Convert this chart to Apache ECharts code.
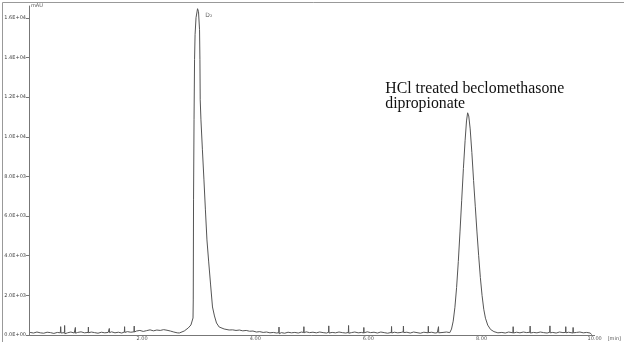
<!DOCTYPE html>
<html>
<head>
<meta charset="utf-8">
<script src="https://cdn.jsdelivr.net/npm/echarts@6/dist/echarts.min.js"></script>
<style>html,body{margin:0;padding:0;background:#fff}#c{width:624px;height:342px}</style>
</head>
<body>
<div id="c"></div>
<script>
// Chromatogram trace [time (min), signal (mAU)]
const baselineA = [[0.02,130],[0.08,100],[0.14,150],[0.20,110],[0.26,90],[0.32,140],[0.38,120],[0.44,80],[0.50,130],[0.554,110],[0.56,420],[0.566,100],[0.60,140],[0.626,120],[0.63,480],[0.634,60],[0.68,110],[0.74,150],[0.80,100],[0.816,120],[0.82,380],[0.824,90],[0.86,130],[0.92,160],[0.98,110],[1.046,130],[1.05,400],[1.054,110],[1.10,150],[1.16,120],[1.22,90],[1.28,140],[1.34,110],[1.40,130],[1.416,100],[1.42,330],[1.424,120],[1.46,160],[1.52,110],[1.58,140],[1.64,100],[1.686,150],[1.69,420],[1.694,130],[1.74,170],[1.80,140],[1.856,160],[1.86,450],[1.864,150],[1.90,200],[1.96,230],[2.02,180],[2.08,220],[2.14,260],[2.20,210],[2.26,250],[2.32,230],[2.38,270],[2.44,240],[2.50,200],[2.56,150],[2.62,110]];
const peak1 = [[2.657,101],[2.745,202],[2.815,354],[2.863,505],[2.900,859],[2.904,1768],[2.909,6818],[2.918,10858],[2.927,13888],[2.936,15150],[2.953,16009],[2.980,16463],[2.997,16312],[3.015,15403],[3.022,13888],[3.027,11868],[3.040,10858],[3.066,9343],[3.093,7828],[3.119,6313],[3.146,4798],[3.177,3687],[3.211,2525],[3.244,1414],[3.279,960],[3.315,606],[3.362,404],[3.450,303],[3.538,253]];
const baselineB = [[3.60,260],[3.66,230],[3.72,250],[3.78,210],[3.84,230],[3.90,190],[3.96,200],[4.02,150],[4.08,170],[4.14,130],[4.20,150],[4.26,110],[4.32,130],[4.38,100],[4.416,120],[4.42,400],[4.424,60],[4.46,120],[4.52,90],[4.58,140],[4.64,110],[4.70,130],[4.76,100],[4.82,150],[4.856,120],[4.86,420],[4.864,110],[4.90,160],[4.96,120],[5.02,140],[5.08,110],[5.14,150],[5.20,120],[5.26,100],[5.296,140],[5.30,460],[5.304,100],[5.36,130],[5.42,110],[5.48,150],[5.54,120],[5.60,100],[5.646,130],[5.65,480],[5.654,90],[5.70,120],[5.76,150],[5.82,110],[5.88,130],[5.916,100],[5.92,380],[5.924,110],[5.98,160],[6.04,120],[6.10,140],[6.16,100],[6.22,150],[6.28,120],[6.34,90],[6.406,130],[6.41,430],[6.414,100],[6.46,140],[6.52,110],[6.58,130],[6.616,160],[6.62,450],[6.624,120],[6.68,140],[6.74,100],[6.80,150],[6.86,120],[6.92,90],[6.98,140],[7.056,110],[7.06,440],[7.064,120],[7.12,140],[7.18,100],[7.22,120]];
const peak2 = [[7.236,120],[7.24,420],[7.244,110],[7.32,130],[7.38,150],[7.44,120],[7.47,300],[7.50,700],[7.53,1400],[7.56,2400],[7.59,3700],[7.62,5200],[7.65,6800],[7.68,8400],[7.71,9800],[7.735,10800],[7.755,11211],[7.775,11050],[7.80,10400],[7.83,9200],[7.86,7800],[7.89,6500],[7.92,5200],[7.95,4000],[7.98,2900],[8.01,2000],[8.04,1300],[8.07,850],[8.11,500],[8.16,280],[8.22,170],[8.29,110]];
const baselineC = [[8.36,130],[8.42,100],[8.48,150],[8.556,110],[8.56,420],[8.564,100],[8.62,140],[8.68,110],[8.74,150],[8.80,120],[8.856,140],[8.86,450],[8.864,100],[8.92,130],[8.98,110],[9.04,150],[9.10,120],[9.16,100],[9.206,140],[9.21,460],[9.214,110],[9.26,130],[9.32,100],[9.38,150],[9.44,120],[9.486,130],[9.49,420],[9.494,110],[9.54,140],[9.616,100],[9.62,380],[9.624,110],[9.68,130],[9.74,150],[9.80,110],[9.86,130],[9.92,100],[9.95,20]];
const xTicks = [0, 2, 4, 6, 8, 10];
const yTicks = [0, 2000, 4000, 6000, 8000, 10000, 12000, 14000, 16000];
const peak1Label = { t: 3.18, v: 16100, text: 'D\u2082' };
const peak2Label = { t: 6.21, v: 12780, text: 'HCl treated beclomethasone\ndipropionate' };

const trace = [].concat(baselineA, peak1, baselineB, peak2, baselineC);

function sci(v) {
  if (v === 0) return '0.0E+00';
  const e = Math.floor(Math.log10(Math.abs(v)));
  const m = v / Math.pow(10, e);
  return m.toFixed(1) + 'E' + (e >= 0 ? '+' : '-') + String(Math.abs(e)).padStart(2, '0');
}

const chart = echarts.init(document.getElementById('c'));
chart.setOption({
  animation: false,
  backgroundColor: '#fff',
  grid: { left: 29, right: 27, top: 6, bottom: 7, containLabel: false },
  xAxis: {
    type: 'value', min: 0, max: 10, interval: 2,
    name: '[min]', nameLocation: 'end', nameGap: 10,
    nameTextStyle: { fontSize: 5, color: '#555', fontFamily: 'DejaVu Sans', verticalAlign: 'top', padding: [1, 0, 0, 0] },
    axisLine: { lineStyle: { color: '#777', width: 1 } },
    axisTick: { show: false },
    splitLine: { show: false },
    axisLabel: { showMinLabel: false, fontSize: 5, color: '#555', margin: 1, fontFamily: 'DejaVu Sans',
      formatter: v => xTicks.indexOf(v) >= 0 ? v.toFixed(2) : '' }
  },
  yAxis: {
    type: 'value', min: 0, max: 16600, interval: 2000,
    name: 'mAU', nameLocation: 'end', nameGap: -2,
    nameTextStyle: { fontSize: 5, color: '#555', align: 'left', fontFamily: 'DejaVu Sans', padding: [0, 0, 0, 2] },
    axisLine: { show: true, lineStyle: { color: '#777', width: 1 } },
    axisTick: { show: true, length: 3, lineStyle: { color: '#777' } },
    splitLine: { show: false },
    axisLabel: { fontSize: 5, color: '#444', margin: 3, fontFamily: 'DejaVu Sans', showMaxLabel: false,
      formatter: v => yTicks.indexOf(v) >= 0 ? sci(v) : '' }
  },
  series: [{
    type: 'line',
    data: trace,
    showSymbol: false,
    symbol: 'none',
    lineStyle: { color: '#555', width: 1 },
    markPoint: {
      symbol: 'rect', symbolSize: 0,
      data: [
        { coord: [peak1Label.t, peak1Label.v], label: { show: true, formatter: peak1Label.text, fontSize: 6, color: '#666', fontFamily: 'DejaVu Sans', position: 'inside' } },
        { coord: [peak2Label.t, peak2Label.v], label: { show: true, formatter: peak2Label.text, fontSize: 15.8, lineHeight: 14.5, color: '#111', fontFamily: 'Liberation Serif', position: 'right', align: 'left', verticalAlign: 'top' } }
      ]
    }
  }],
  graphic: [{
    type: 'rect', left: 0, top: 0, shape: { x: 0.5, y: 0.5, width: 623, height: 341 },
    style: { fill: 'none', stroke: '#999', lineWidth: 1 }, silent: true, z: 100
  }]
});
</script>
</body>
</html>
